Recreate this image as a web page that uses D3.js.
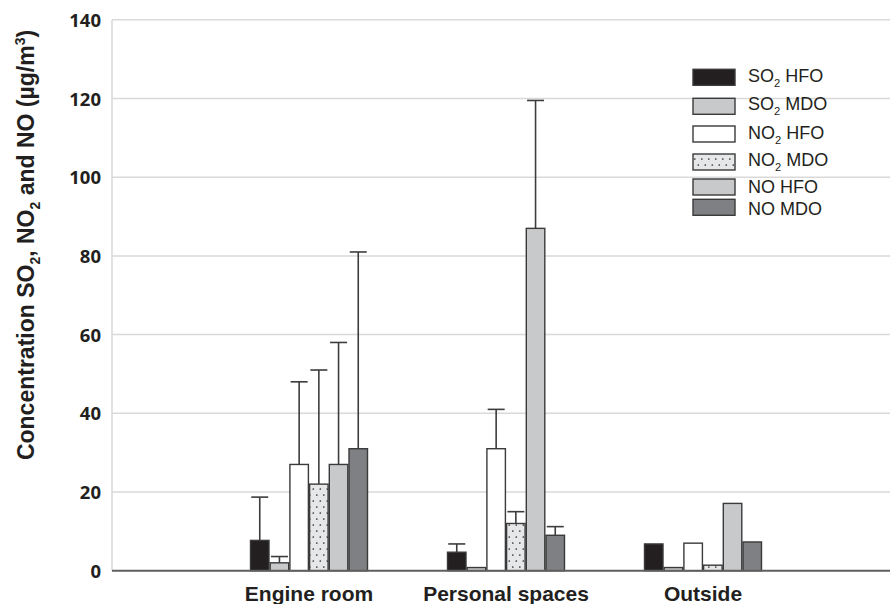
<!DOCTYPE html>
<html><head><meta charset="utf-8">
<script src="https://cdn.jsdelivr.net/npm/d3@7"></script>
<style>html,body{margin:0;padding:0;background:#fff}</style>
</head><body>
<svg id="chart" width="890" height="604"></svg>
<script>
const categories = ["Engine room", "Personal spaces", "Outside"];
const seriesKeys = ["SO2 HFO", "SO2 MDO", "NO2 HFO", "NO2 MDO", "NO HFO", "NO MDO"];
// mean values per category, in seriesKeys order
const engineRoom = [7.7, 2.0, 27, 22, 27, 31];
const personalSpaces = [4.7, 0.8, 31, 12, 87, 9];
const outside = [6.8, 0.8, 7, 1.4, 17.1, 7.3];
// top of error bars (mean + sd); null = no error bar
const engineRoomErr = [18.7, 3.6, 48, 51, 58, 81];
const personalSpacesErr = [6.8, null, 41, 15, 119.5, 11.2];
const outsideErr = [null, null, null, null, null, null];
const yTicks = [0, 20, 40, 60, 80, 100, 120, 140];

(function () {
const values = [engineRoom, personalSpaces, outside];
const errs = [engineRoomErr, personalSpacesErr, outsideErr];

const fills = ["#231f20", "#c8c9cb", "#ffffff", "url(#dots)", "#c8c9cb", "#7f8083"];
const svg = d3.select("#chart");

const defs = svg.append("defs");
const pat = defs.append("pattern").attr("id", "dots").attr("patternUnits", "userSpaceOnUse")
  .attr("width", 7).attr("height", 12);
pat.append("rect").attr("width", 7).attr("height", 12).attr("fill", "#e6e7e8");
pat.append("circle").attr("cx", 1.8).attr("cy", 3).attr("r", 0.85).attr("fill", "#333");
pat.append("circle").attr("cx", 5.3).attr("cy", 9).attr("r", 0.85).attr("fill", "#333");

const pLeft = 112, pRight = 890, pTop = 19.8, pBottom = 570.7;
const y = d3.scaleLinear().domain([0, 140]).range([pBottom, pTop]);
const x = d3.scaleBand().domain(categories).range([210.5, 801.5]).paddingInner(0.4).paddingOuter(0.2);
const xs = d3.scaleBand().domain(seriesKeys).range([0, x.bandwidth()]).padding(0);

// grid
svg.append("g").selectAll("line").data(yTicks.filter(d => d > 0)).join("line")
  .attr("x1", pLeft).attr("x2", pRight).attr("y1", d => y(d)).attr("y2", d => y(d))
  .attr("stroke", "#d9d9d9").attr("stroke-width", 1.5);
// y axis line
svg.append("line").attr("x1", pLeft).attr("x2", pLeft).attr("y1", pTop).attr("y2", pBottom)
  .attr("stroke", "#d9d9d9").attr("stroke-width", 1.5);

// y tick labels
const yAxis = d3.axisLeft(y).tickValues(yTicks).tickSize(0).tickPadding(11);
const ya = svg.append("g").attr("transform", `translate(${pLeft},0)`).call(yAxis);
ya.select(".domain").remove();
ya.selectAll("text").attr("font-family", "Open Sans").attr("font-weight", "bold")
  .attr("font-size", "18.5px").attr("fill", "#231f20").attr("dy", "0.36em");

// bars
const rows = [];
categories.forEach((c, ci) => seriesKeys.forEach((k, si) => rows.push({c, k, si, v: values[ci][si], e: errs[ci][si]})));

// error bars (drawn before bars)
const eg = svg.append("g").attr("stroke", "#3d3d3d").attr("stroke-width", 1.6);
rows.filter(d => d.e != null).forEach(d => {
  const cx = x(d.c) + xs(d.k) + xs.bandwidth() / 2;
  eg.append("line").attr("x1", cx).attr("x2", cx).attr("y1", y(d.v)).attr("y2", y(d.e));
  eg.append("line").attr("x1", cx - 8.5).attr("x2", cx + 8.5).attr("y1", y(d.e)).attr("y2", y(d.e));
});

svg.append("g").selectAll("rect").data(rows).join("rect")
  .attr("x", d => x(d.c) + xs(d.k) + 0.6)
  .attr("width", xs.bandwidth() - 1.2)
  .attr("y", d => y(d.v))
  .attr("height", d => pBottom - y(d.v))
  .attr("fill", d => fills[d.si])
  .attr("stroke", "#3a3a3a").attr("stroke-width", 1.4);

// x axis line
svg.append("line").attr("x1", pLeft).attr("x2", pRight).attr("y1", pBottom).attr("y2", pBottom)
  .attr("stroke", "#5f5f5f").attr("stroke-width", 2);

// x labels
const xAxis = d3.axisBottom(x).tickSize(0).tickPadding(0);
const xa = svg.append("g").attr("transform", `translate(0,${pBottom})`).call(xAxis);
xa.select(".domain").remove();
xa.selectAll("text").attr("dy", null).attr("y", 30.5)
  .attr("font-family", "Liberation Sans, Arial, sans-serif").attr("font-weight", "bold")
  .attr("font-size", "21px").attr("fill", "#231f20");

// subscript helper: splits "SO2 HFO" into tspans with a lowered "2"
function richText(sel, label, size) {
  const m = label.match(/^(\D+)(\d)(.*)$/);
  if (!m) { sel.text(label); return; }
  sel.append("tspan").text(m[1]);
  sel.append("tspan").attr("font-size", (size * 0.62) + "px").attr("dy", size * 0.28).text(m[2]);
  sel.append("tspan").attr("dy", -size * 0.28).text(m[3]);
}

// legend
const legendTops = [69.3, 98.3, 126, 154, 179, 199.3];
const legendBase = [82, 110, 138.5, 166, 193, 214.5];
const lg = svg.append("g");
seriesKeys.forEach((k, i) => {
  lg.append("rect").attr("x", 693).attr("y", legendTops[i]).attr("width", 42).attr("height", 16)
    .attr("fill", fills[i]).attr("stroke", "#3a3a3a").attr("stroke-width", 1.4);
  const t = lg.append("text").attr("x", 748).attr("y", legendBase[i])
    .attr("font-family", "Liberation Sans, Arial, sans-serif").attr("font-size", "18px").attr("fill", "#231f20");
  richText(t, k, 18);
});

// y title
const fs = 23, sub = 14;
const yt = svg.append("text").attr("transform", "translate(34,245) rotate(-90)")
  .attr("text-anchor", "middle")
  .attr("font-family", "Liberation Sans, Arial, sans-serif").attr("font-weight", "bold")
  .attr("font-size", fs + "px").attr("fill", "#231f20");
yt.append("tspan").text("Concentration SO");
yt.append("tspan").attr("font-size", sub + "px").attr("dy", 6).text("2");
yt.append("tspan").attr("dy", -6).text(", NO");
yt.append("tspan").attr("font-size", sub + "px").attr("dy", 6).text("2");
yt.append("tspan").attr("dy", -6).text(" and NO (\u00b5g/m");
yt.append("tspan").attr("font-size", sub + "px").attr("dy", -9).text("3");
yt.append("tspan").attr("dy", 9).text(")");
})();
</script>
</body></html>
